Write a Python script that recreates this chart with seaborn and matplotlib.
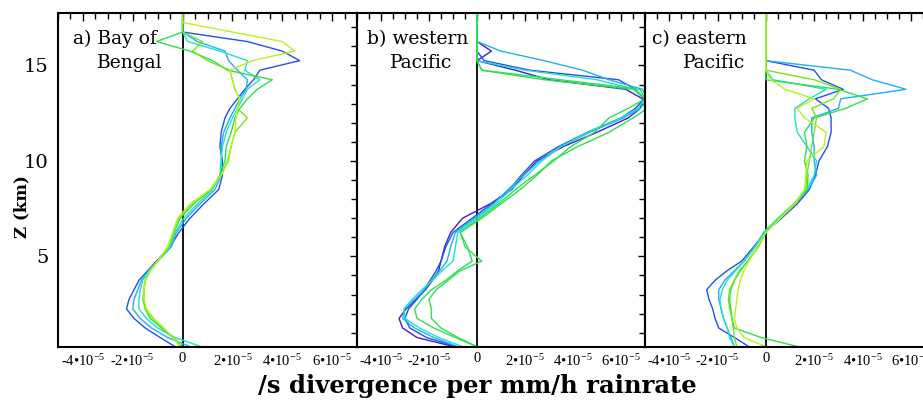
import numpy as np
import pandas as pd
import matplotlib
matplotlib.use("Agg")
import matplotlib.pyplot as plt
from matplotlib.ticker import MultipleLocator, FixedLocator
import seaborn as sns

sns.set_theme(style="white")
plt.rcParams['font.family'] = ['DejaVu Serif']
plt.rcParams['mathtext.fontset'] = 'stix'

# heights (km)
z_levels = [0.27, 0.75, 1.25, 1.75, 2.25, 2.75, 3.25, 3.75, 4.25, 4.75, 5.5, 6.25,
            7.0, 7.75, 8.5, 9.25, 10.0, 10.75, 11.5, 12.25, 12.75, 13.25, 13.75,
            14.25, 14.75, 15.25, 15.75, 16.25, 16.75, 17.25, 17.75]

# divergence per rainrate, units of 1e-5 /s per mm/h
bob_blue  = [-0.3, -0.9, -1.5, -1.95, -2.25, -2.15, -1.95, -1.75, -1.4, -1.05, -0.5, -0.15, 0.3, 0.85, 1.45, 1.6, 1.6, 1.5, 1.55, 1.7, 1.9, 2.2, 2.5, 2.85, 3.1, 4.7, 4.0, 2.6, 0, 0, 0]
bob_sky   = [0.3, -0.6, -1.25, -1.7, -2.0, -1.95, -1.8, -1.65, -1.35, -1.0, -0.45, -0.25, 0.15, 0.7, 1.3, 1.55, 1.55, 1.55, 1.65, 1.9, 2.1, 2.3, 2.55, 2.6, 2.2, 1.85, 1.7, 0.6, 0, 0, 0]
bob_turq  = [0.75, -0.3, -1.0, -1.45, -1.75, -1.75, -1.7, -1.6, -1.35, -1.0, -0.5, -0.3, 0.05, 0.6, 1.2, 1.5, 1.55, 1.6, 1.75, 2.0, 2.2, 2.4, 2.6, 3.1, 2.5, 2.6, 1.5, 0.2, 0, 0, 0]
bob_green = [0.0, -0.4, -0.85, -1.3, -1.5, -1.55, -1.55, -1.5, -1.3, -1.0, -0.55, -0.35, -0.1, 0.45, 1.15, 1.5, 1.7, 1.75, 1.95, 2.1, 2.3, 2.6, 3.0, 3.6, 1.8, 1.2, 0.3, -1.05, 0.0, 0, 0]
bob_lime  = [0.0, -0.35, -0.8, -1.2, -1.5, -1.6, -1.55, -1.5, -1.3, -1.0, -0.55, -0.35, -0.15, 0.4, 1.15, 1.55, 1.8, 1.95, 2.1, 2.6, 2.2, 2.3, 2.1, 2.0, 1.9, 1.0, 0.4, 0.8, 0.0, 0, 0]
bob_yell  = [-0.1, -0.4, -0.75, -1.15, -1.45, -1.55, -1.55, -1.5, -1.3, -1.0, -0.6, -0.4, -0.2, 0.3, 1.1, 1.55, 1.85, 1.95, 2.1, 2.15, 2.2, 2.3, 2.1, 2.0, 1.9, 2.8, 4.5, 4.0, 2.0, 0.0, 0]

wp_indigo = [-0.95, -2.5, -3.1, -3.25, -2.95, -2.55, -2.15, -1.85, -1.6, -1.5, -1.35, -1.1, -0.6, 0.55, 1.45, 1.95, 2.5, 3.6, 5.0, 6.3, 6.8, 6.9, 6.2, 3.0, 1.6, 0.0, 0.6, 0.0, 0, 0, 0]
wp_blue   = [-0.85, -2.1, -2.8, -3.0, -2.85, -2.5, -2.2, -1.95, -1.7, -1.5, -1.3, -1.0, -0.2, 0.6, 1.35, 1.85, 2.4, 3.4, 4.6, 6.0, 6.6, 6.95, 6.6, 5.9, 2.2, 0.3, 0.0, 0.0, 0, 0, 0]
wp_sky    = [-0.8, -1.8, -2.6, -3.1, -3.0, -2.6, -2.2, -1.9, -1.55, -1.25, -1.1, -0.9, -0.1, 0.7, 1.3, 1.95, 2.6, 3.5, 4.7, 6.1, 6.8, 7.1, 6.9, 5.5, 4.4, 2.8, 1.0, 0.0, 0, 0, 0]
wp_turq   = [-0.6, -1.6, -2.4, -3.0, -3.05, -2.7, -2.3, -1.85, -1.45, -1.0, -0.9, -0.8, 0.0, 0.8, 1.4, 2.1, 2.7, 3.5, 4.6, 6.0, 6.7, 7.0, 6.6, 5.0, 2.0, 0.0, 0.0, 0.0, 0, 0, 0]
wp_green  = [0.0, -0.9, -1.8, -2.5, -2.6, -2.3, -1.9, -1.3, -0.8, -0.2, -0.4, -0.7, 0.1, 0.9, 1.6, 2.4, 3.2, 3.9, 4.9, 5.5, 6.3, 7.0, 6.8, 3.5, 0.2, 0.0, 0.0, 0.0, 0, 0, 0]
wp_lime   = [0.0, -0.8, -1.5, -1.9, -1.9, -2.0, -1.7, -1.2, -0.7, 0.2, -0.5, -0.7, 0.2, 1.0, 1.8, 2.5, 3.1, 4.2, 5.5, 6.5, 7.1, 7.0, 6.5, 2.8, 0.2, 0.0, 0.0, 0.0, 0, 0, 0]

ep_blue   = [-0.7, -1.3, -1.95, -2.1, -2.2, -2.35, -2.45, -2.1, -1.6, -1.0, -0.5, -0.05, 0.65, 1.3, 1.8, 2.05, 2.2, 2.55, 2.7, 2.7, 2.6, 2.05, 3.2, 2.3, 2.0, 0.0, 0, 0, 0, 0, 0]
ep_sky    = [-1.3, -1.45, -1.6, -1.75, -1.85, -1.95, -1.95, -1.7, -1.3, -0.9, -0.45, -0.05, 0.55, 1.2, 1.75, 2.1, 2.0, 2.0, 1.9, 1.9, 3.0, 3.1, 5.8, 4.4, 3.5, 0.0, 0, 0, 0, 0, 0]
ep_turq   = [-1.3, -1.5, -1.6, -1.75, -1.85, -1.9, -1.8, -1.6, -1.25, -0.9, -0.45, -0.1, 0.5, 1.15, 1.7, 2.0, 2.1, 1.7, 1.3, 1.2, 1.2, 1.8, 2.5, 0.3, 0.0, 0, 0, 0, 0, 0, 0]
ep_green  = [1.35, -0.2, -1.3, -1.4, -1.45, -1.5, -1.45, -1.3, -1.05, -0.75, -0.35, 0.0, 0.6, 1.2, 1.7, 1.75, 1.6, 1.7, 1.6, 2.0, 3.3, 4.2, 3.0, 0.0, 0, 0, 0, 0, 0, 0, 0]
ep_lime   = [-1.2, -1.3, -1.35, -1.4, -1.5, -1.55, -1.5, -1.3, -1.1, -0.75, -0.3, 0.0, 0.55, 1.15, 1.65, 1.7, 1.8, 1.9, 2.0, 2.1, 1.9, 2.8, 3.1, 2.0, 0.0, 0, 0, 0, 0, 0, 0]
ep_yell   = [0.0, -0.9, -1.2, -1.3, -1.25, -1.2, -1.15, -1.05, -0.9, -0.7, -0.35, 0.0, 0.6, 1.2, 1.6, 1.65, 1.7, 2.4, 2.5, 1.6, 1.3, 2.0, 0.8, 0.2, 0.0, 0, 0, 0, 0, 0, 0]

panel_titles = [("a) Bay of", "Bengal"), ("b) western", "Pacific"), ("c) eastern", "Pacific")]
x_tick_values = [-4, -2, 0, 2, 4, 6]
x_tick_labels = ['-4•10$^{\\mathregular{-5}}$', '-2•10$^{\\mathregular{-5}}$', '0',
                 '2•10$^{\\mathregular{-5}}$', '4•10$^{\\mathregular{-5}}$', '6•10$^{\\mathregular{-5}}$']
y_tick_values = [5, 10, 15]

C_INDIGO = '#3a1fdc'
C_BLUE = '#2050f0'
C_SKY = '#1fb0f5'
C_TURQ = '#1fe3c4'
C_GREEN = '#2ee050'
C_LIME = '#6ee81c'
C_YELL = '#b8f21e'

panels = [
    [(bob_blue, C_BLUE), (bob_sky, C_SKY), (bob_turq, C_TURQ), (bob_green, C_GREEN), (bob_lime, C_LIME), (bob_yell, C_YELL)],
    [(wp_indigo, C_INDIGO), (wp_blue, C_BLUE), (wp_sky, C_SKY), (wp_turq, C_TURQ), (wp_green, C_GREEN), (wp_lime, C_GREEN)],
    [(ep_blue, C_BLUE), (ep_sky, C_SKY), (ep_turq, C_TURQ), (ep_green, C_GREEN), (ep_lime, C_LIME), (ep_yell, C_YELL)],
]

W, H = 923, 400
fig = plt.figure(figsize=(W / 100, H / 100), dpi=100)
fig.patch.set_facecolor('white')
boxes = [(58, 357), (357, 645), (645, 935)]
top_px, bot_px = 13.3, 346.7
title_pos = [((73, 39), (97, 63)), ((367, 39), (390, 63)), ((652, 39), (683, 63))]

for i, (lines, (l, r)) in enumerate(zip(panels, boxes)):
    ax = fig.add_axes([l / W, 1 - bot_px / H, (r - l) / W, (bot_px - top_px) / H])
    ax.set_facecolor('white')
    ax.axvline(0, color='black', lw=1.3, zorder=1)
    for vals, col in lines:
        df = pd.DataFrame({'div': np.asarray(vals) * 1e-5, 'z': z_levels})
        sns.lineplot(data=df, x='div', y='z', sort=False, estimator=None,
                     color=col, lw=1.0, ax=ax, zorder=2)
    ax.set_xlim(-5e-5, 7e-5)
    ax.set_ylim(0.27, 17.73)
    ax.set_xlabel('')
    ax.set_ylabel('')
    for s in ax.spines.values():
        s.set_color('black')
        s.set_linewidth(1.5)
    ax.xaxis.set_major_locator(FixedLocator([v * 1e-5 for v in x_tick_values]))
    ax.xaxis.set_minor_locator(MultipleLocator(0.5e-5))
    ax.yaxis.set_major_locator(FixedLocator(y_tick_values))
    ax.yaxis.set_minor_locator(MultipleLocator(1))
    ax.tick_params(axis='both', which='major', direction='in', length=6, width=1,
                   color='black', top=True, right=True)
    ax.tick_params(axis='both', which='minor', direction='in', length=4, width=1,
                   color='black', top=True, right=True)
    ax.tick_params(axis='y', which='major', direction='inout', length=10)
    ax.set_xticklabels(x_tick_labels, fontsize=10.5, family='Liberation Serif')
    ax.tick_params(axis='x', pad=4, labelcolor='black')
    if i == 0:
        ax.set_yticklabels([str(v) for v in y_tick_values], fontsize=14)
        ax.tick_params(axis='y', labelcolor='black', pad=2)
    else:
        ax.set_yticklabels([])
    (x1, y1), (x2, y2) = title_pos[i]
    t1, t2 = panel_titles[i]
    fig.text(x1 / W, 1 - y1 / H, t1, fontsize=13.5, va='center', ha='left', color='black')
    fig.text(x2 / W, 1 - y2 / H, t2, fontsize=13.5, va='center', ha='left', color='black')

fig.text(477 / W, 1 - 386 / H, '/s divergence per mm/h rainrate', fontsize=17.5,
         fontweight='bold', ha='center', va='center', color='black')
fig.text(22 / W, 1 - 207 / H, 'Z (km)', fontsize=12, fontweight='bold', rotation=90,
         ha='center', va='center', color='black')

fig.savefig('out.png', dpi=100, facecolor='white')
